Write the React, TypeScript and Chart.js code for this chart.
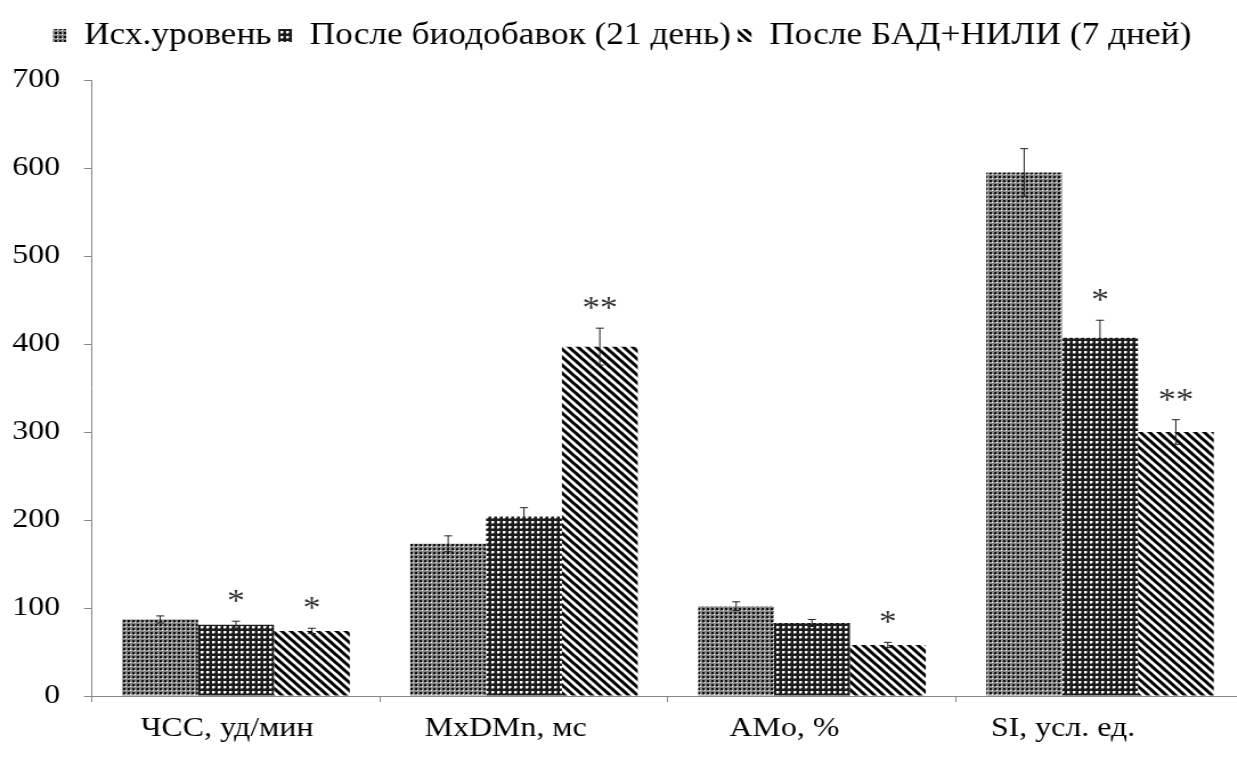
import React, { useEffect, useRef } from "react";
import { Chart, registerables } from "chart.js";
Chart.register(...registerables);

const categories = ["ЧСС, уд/мин", "MxDMn, мс", "AMo, %", "SI, усл. ед."];
const seriesNames = ["Исх.уровень", "После биодобавок (21 день)", "После БАД+НИЛИ (7 дней)"];
const baseline = [87, 173, 102, 595];
const baselineErr = [4, 9, 5, 27];
const after21 = [81, 204, 83, 407];
const after21Err = [4, 10, 4, 20];
const after7 = [74, 397, 58, 300];
const after7Err = [3, 21, 3, 14];
const baselineSig = ["", "", "", ""];
const after21Sig = ["*", "", "", "*"];
const after7Sig = ["*", "**", "*", "**"];
const yTicks = [0, 100, 200, 300, 400, 500, 600, 700];

const SX = 1.14;
const W = 1097;
const H = 757;
const FONT = '"Liberation Serif", "Times New Roman", serif';

function makePattern(kind: string): CanvasPattern | string {
  const c = document.createElement("canvas");
  const ctx = c.getContext("2d");
  if (!ctx) return "#777";
  if (kind === "fine") {
    c.width = 4; c.height = 4;
    ctx.fillStyle = "#858585"; ctx.fillRect(0, 0, 4, 4);
    ctx.fillStyle = "#111"; ctx.fillRect(0, 0, 2, 2);
    ctx.fillStyle = "#fff"; ctx.fillRect(2, 2, 1, 1);
  } else if (kind === "checker") {
    c.width = 5; c.height = 5;
    ctx.fillStyle = "#1c1c1c"; ctx.fillRect(0, 0, 5, 5);
    ctx.fillStyle = "#fff"; ctx.fillRect(1, 1, 2, 2);
    ctx.fillStyle = "#8a8a8a"; ctx.fillRect(3, 1, 1, 2); ctx.fillRect(1, 3, 2, 1);
  } else {
    const N = 8;
    c.width = N; c.height = N;
    ctx.fillStyle = "#fff"; ctx.fillRect(0, 0, N, N);
    ctx.strokeStyle = "#000"; ctx.lineWidth = 3;
    ctx.beginPath();
    for (const off of [-N, 0, N]) {
      ctx.moveTo(off - 1, -1); ctx.lineTo(off + N + 1, N + 1);
    }
    ctx.stroke();
  }
  const p = ctx.createPattern(c, "repeat");
  return p || "#777";
}

const legendSpacing = {
  id: "legendSpacing",
  beforeInit(chart: any) {
    const lg = chart.legend;
    if (!lg) return;
    const orig = lg.fit;
    lg.fit = function () {
      orig.call(this);
      this.height += 19;
    };
  },
};

const errorBarPlugin = {
  id: "errbars",
  afterDatasetsDraw(chart: any) {
    const ctx = chart.ctx;
    const y = chart.scales.y;
    chart.data.datasets.forEach((ds: any, i: number) => {
      const meta = chart.getDatasetMeta(i);
      meta.data.forEach((bar: any, j: number) => {
        const v = ds.data[j];
        const e = ds.errors[j];
        const yt = y.getPixelForValue(v + e);
        const yb = y.getPixelForValue(v - e);
        const hw = 3.5;
        ctx.save();
        ctx.strokeStyle = "#222";
        ctx.lineWidth = 1;
        ctx.beginPath();
        ctx.moveTo(bar.x, yt); ctx.lineTo(bar.x, yb);
        ctx.moveTo(bar.x - hw, yt); ctx.lineTo(bar.x + hw, yt);
        ctx.moveTo(bar.x - hw, yb); ctx.lineTo(bar.x + hw, yb);
        ctx.stroke();
        const s = ds.sig[j];
        if (s) {
          ctx.fillStyle = "#333";
          ctx.font = `31px ${FONT}`;
          ctx.textAlign = "center";
          ctx.textBaseline = "alphabetic";
          ctx.fillText(s, bar.x, yt - 10);
        }
        ctx.restore();
      });
    });
  },
};

export default function App() {
  const ref = useRef<HTMLCanvasElement>(null);
  useEffect(() => {
    if (!ref.current) return;
    const font = { family: FONT, size: 28 };
    const chart = new Chart(ref.current, {
      type: "bar",
      data: {
        labels: categories,
        datasets: [
          { label: seriesNames[0], data: baseline, errors: baselineErr, sig: baselineSig, backgroundColor: makePattern("fine") } as any,
          { label: seriesNames[1], data: after21, errors: after21Err, sig: after21Sig, backgroundColor: makePattern("checker") } as any,
          { label: seriesNames[2], data: after7, errors: after7Err, sig: after7Sig, backgroundColor: makePattern("diag") } as any,
        ],
      },
      options: {
        responsive: false,
        animation: false,
        devicePixelRatio: 1,
        layout: { padding: { top: 14, right: 5.8, bottom: 0, left: 0 } },
        datasets: { bar: { categoryPercentage: 0.79, barPercentage: 1, borderWidth: 0 } },
        plugins: {
          legend: {
            position: "top",
            labels: { font: { family: FONT, size: 31 }, color: "#000", boxWidth: 12, boxHeight: 13, padding: 6 },
          },
          tooltip: { enabled: false },
        },
        scales: {
          x: {
            type: "category",
            grid: { offset: true, drawOnChartArea: false, tickLength: 6, color: "#888" },
            ticks: { display: false },
            border: { color: "#888" },
          },
          xl: {
            type: "linear",
            position: "bottom",
            weight: 1,
            offset: false,
            min: -0.4845,
            max: 3.6495,
            afterBuildTicks: (s: any) => { s.ticks = [0, 1, 2, 3].map((v) => ({ value: v })); },
            ticks: { font, color: "#000", padding: 10, maxRotation: 0, autoSkip: false, callback: (v: any) => categories[v] ?? "" },
            grid: { display: false, drawTicks: false, offset: false },
            border: { display: false },
            afterFit: (s: any) => { s.height = H - 696 - 6; },
          },
          y: {
            min: 0,
            max: 700,
            afterBuildTicks: (s: any) => { s.ticks = yTicks.map((v) => ({ value: v })); },
            ticks: { font, color: "#000", padding: 21 },
            grid: { drawOnChartArea: false, tickLength: 7, color: "#888" },
            border: { color: "#888" },
            afterFit: (s: any) => { s.width = 80.7; },
          },
        } as any,
      },
      plugins: [legendSpacing, errorBarPlugin],
    } as any);
    return () => chart.destroy();
  }, []);
  return (
    <div style={{ position: "absolute", left: 0, top: 0, width: 1237, height: H, overflow: "hidden", background: "#fff" }}>
      <div style={{ transform: `scaleX(${SX})`, transformOrigin: "0 0", width: W, height: H }}>
        <canvas ref={ref} width={W} height={H} style={{ width: `${W}px`, height: `${H}px`, display: "block" }} />
      </div>
    </div>
  );
}
